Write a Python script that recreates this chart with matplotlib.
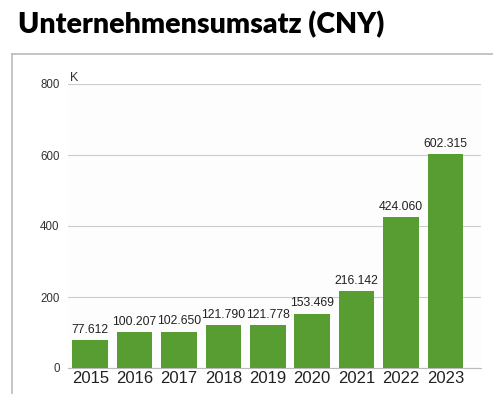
import matplotlib.pyplot as plt
from matplotlib.lines import Line2D

years = ["2015", "2016", "2017", "2018", "2019", "2020", "2021", "2022", "2023"]
revenue = [77.612, 100.207, 102.650, 121.790, 121.778, 153.469, 216.142, 424.060, 602.315]
value_labels = ["77.612", "100.207", "102.650", "121.790", "121.778",
                "153.469", "216.142", "424.060", "602.315"]
y_ticks = [0, 200, 400, 600, 800]

W, H = 493, 394
fig = plt.figure(figsize=(W / 100, H / 100), dpi=100)

# title
fig.text(18 / W, 1 - 33 / H, "Unternehmensumsatz (CNY)", fontsize=20.5,
         fontweight="heavy", family="Lato", va="baseline", ha="left")

# outer frame (top and left edges)
fig.add_artist(Line2D([12 / W, 1.0], [1 - 54 / H, 1 - 54 / H],
                      color="#bbbbbb", lw=1.2, transform=fig.transFigure))
fig.add_artist(Line2D([12 / W, 12 / W], [0, 1 - 54 / H],
                      color="#bbbbbb", lw=1.2, transform=fig.transFigure))

left, right = 68 / W, 481 / W
top, bottom = 1 - 84 / H, 1 - 368 / H
ax = fig.add_axes([left, bottom, right - left, top - bottom])
ax.set_facecolor("#fdfdfd")

x = range(len(years))
ax.bar(x, revenue, width=0.8, color="#579d32", zorder=3)
for i, (v, lab) in enumerate(zip(revenue, value_labels)):
    ax.text(i, v + 12, lab, ha="center", va="bottom", fontsize=8.8,
            family="Liberation Sans", color="#222222", zorder=4)

ax.set_ylim(0, 800)
ax.set_xlim(-0.5, 8.8)
ax.set_yticks(y_ticks)
ax.set_yticklabels([str(t) for t in y_ticks], fontsize=8.3,
                   family="Liberation Sans", color="#333333")
ax.set_xticks(list(x))
ax.set_xticklabels(years, fontsize=12, family="Liberation Sans", color="#222222")
ax.tick_params(axis="both", length=0)
ax.tick_params(axis="y", pad=6)
ax.tick_params(axis="x", pad=2)
ax.grid(axis="y", color="#cccccc", lw=0.8, zorder=1)
for s in ["top", "right", "left"]:
    ax.spines[s].set_visible(False)
ax.spines["bottom"].set_color("#bbbbbb")
ax.text(0.005, 800, "K", fontsize=9, family="Liberation Sans",
        color="#333333", va="bottom", ha="left",
        transform=ax.get_yaxis_transform())

fig.savefig("out.png", dpi=100)
